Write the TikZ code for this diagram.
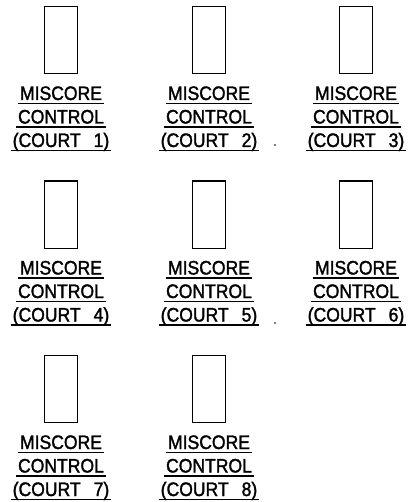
\documentclass[tikz,border=0pt]{standalone}
\usepackage{fontspec}
\setmainfont{Liberation Sans}[FakeStretch=0.9, FakeBold=1.6]
\begin{document}
\begin{tikzpicture}[x=1pt, y=-1pt, line width=1.3pt,
  panel/.style={draw, minimum width=33pt, minimum height=67pt, inner sep=0pt, anchor=north},
  lbl/.style={inner sep=0pt, anchor=base, font=\fontsize{19.5}{23.5}\selectfont}]
  \useasboundingbox (0,0) rectangle (411,502);
  % one miscore control per court: x, y of top, court number
  \foreach \x/\y/\n in {61/6/1, 209/6/2, 356/6/3,
                        61/180.5/4, 209/180.5/5, 356/180.5/6,
                        61/355/7, 209/355/8} {
    \node[panel] (box\n) at (\x,\y) {};
    \node[lbl] (mis\n) at (\x,\y+94) {MISCORE};
    \node[lbl] (ctl\n) at (\x,\y+117.5) {CONTROL};
    \node[lbl] (crt\n) at (\x,\y+141) {(COURT\hspace{13pt}\n)};
    \foreach \t in {mis,ctl,crt}
      \draw ([shift={(-1.5,3.5)}]\t\n.base west) -- ([shift={(1.5,3.5)}]\t\n.base east);
  }
  % stray points
  \fill (275,145) circle (0.9);
  \fill (275,323) circle (0.9);
\end{tikzpicture}
\end{document}
